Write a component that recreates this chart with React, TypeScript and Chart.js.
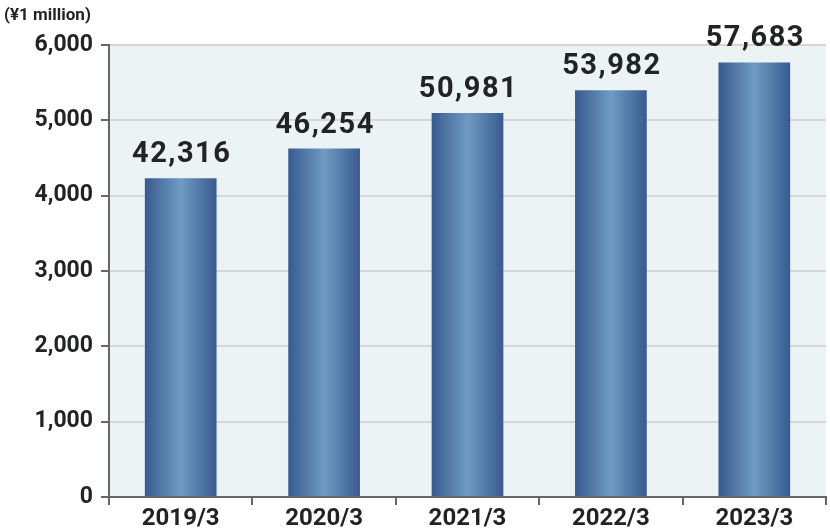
import React, { useEffect, useRef } from "react";
import { Chart, registerables } from "chart.js";

Chart.register(...registerables);

const categories = ["2019/3", "2020/3", "2021/3", "2022/3", "2023/3"];
const values = [42316, 46254, 50981, 53982, 57683];
const yTickLabels = ["0", "1,000", "2,000", "3,000", "4,000", "5,000", "6,000"];
const unitLabel = "(¥1 million)";

const FONT = "Roboto, 'Noto Sans', sans-serif";
const TEXT = "#222326";

export default function App() {
  const ref = useRef<HTMLCanvasElement | null>(null);

  useEffect(() => {
    if (!ref.current) return;
    const bgPlugin = {
      id: "bg",
      beforeDraw(chart: any) {
        const { ctx, chartArea } = chart;
        ctx.save();
        ctx.fillStyle = "#ebf3f5";
        ctx.fillRect(chartArea.left, chartArea.top, chartArea.right - chartArea.left, chartArea.bottom - chartArea.top);
        ctx.restore();
      },
      afterDraw(chart: any) {
        const { ctx } = chart;
        ctx.save();
        ctx.fillStyle = TEXT;
        ctx.font = `bold 17px ${FONT}`;
        ctx.textAlign = "left";
        ctx.textBaseline = "alphabetic";
        ctx.fillText(unitLabel, 4, 20);
        ctx.restore();
      },
      afterDatasetsDraw(chart: any) {
        const { ctx } = chart;
        const meta = chart.getDatasetMeta(0);
        ctx.save();
        ctx.fillStyle = TEXT;
        ctx.font = `bold 29px ${FONT}`;
        (ctx as any).letterSpacing = "1.5px";
        ctx.textAlign = "center";
        ctx.textBaseline = "alphabetic";
        meta.data.forEach((el: any, i: number) => {
          ctx.fillText(values[i].toLocaleString("en-US"), el.x + 1, el.y - 16);
        });
        ctx.restore();
      },
    };

    const chart = new Chart(ref.current, {
      type: "bar",
      data: {
        labels: categories,
        datasets: [
          {
            data: values,
            barPercentage: 0.5,
            categoryPercentage: 1,
            borderWidth: 0,
            backgroundColor: (c: any) => {
              const ch = c.chart;
              const xs = ch.scales?.x;
              if (!xs || !ch.chartArea) return "#4a6fa0";
              const cx = xs.getPixelForValue(c.dataIndex);
              const w = ((ch.chartArea.right - ch.chartArea.left) / categories.length) * 0.5;
              const g = ch.ctx.createLinearGradient(cx - w / 2, 0, cx + w / 2, 0);
              g.addColorStop(0, "#385a8f");
              g.addColorStop(0.5, "#6f9bc3");
              g.addColorStop(1, "#385a8f");
              return g;
            },
          },
        ],
      },
      options: {
        animation: false,
        responsive: false,
        devicePixelRatio: 1,
        layout: { padding: { top: 45, right: 4, left: 0, bottom: 0 } },
        plugins: { legend: { display: false }, tooltip: { enabled: false } },
        scales: {
          x: {
            afterFit(s: any) {
              s.height = 33;
            },
            grid: { drawOnChartArea: false, tickLength: 8, tickColor: "#666", lineWidth: 2, offset: true },
            border: { color: "#666", width: 2 },
            ticks: { color: TEXT, font: { family: FONT, size: 24, weight: "bold" }, padding: 0 },
          },
          y: {
            min: 0,
            max: 60000,
            afterFit(s: any) {
              s.width = 109;
            },
            grid: { color: "#d6d6d6", tickColor: "#666", lineWidth: 2, tickLength: 8 },
            border: { color: "#666", width: 2 },
            ticks: {
              stepSize: 10000,
              padding: 8,
              color: TEXT,
              font: { family: FONT, size: 23, weight: "bold" },
              callback: (_v: any, i: number) => yTickLabels[i],
            },
          },
        },
      },
      plugins: [bgPlugin],
    });
    return () => chart.destroy();
  }, []);

  return (
    <div style={{ position: "fixed", left: 0, top: 0, width: 830, height: 530, background: "#fff" }}>
      <canvas ref={ref} width={830} height={530} style={{ width: 830, height: 530, display: "block" }} />
    </div>
  );
}
